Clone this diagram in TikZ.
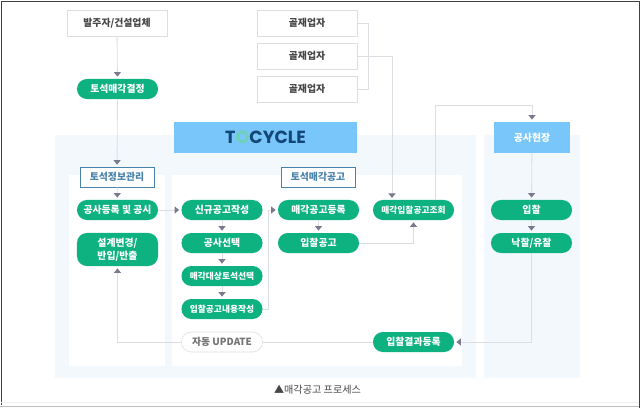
\documentclass[tikz,border=0pt]{standalone}
\usepackage{fontspec}
\setmainfont{Noto Sans CJK KR}
\newfontfamily\logofont{Poppins}
\usetikzlibrary{arrows.meta}
\definecolor{pillgreen}{RGB}{14,178,128}
\definecolor{skyblue}{RGB}{121,198,250}
\definecolor{palebg}{RGB}{243,248,253}
\definecolor{linegray}{RGB}{220,222,228}
\definecolor{tipgray}{RGB}{122,122,142}
\definecolor{titleblue}{RGB}{70,130,170}
\definecolor{textgray}{RGB}{70,70,70}
\definecolor{logonavy}{RGB}{20,70,120}
\tikzset{
  pill/.style={rectangle, rounded corners=2.45mm, fill=pillgreen, text=white, font=\fontsize{7}{9.6}\selectfont\bfseries,
    minimum width=2.025cm, minimum height=0.5cm, inner sep=0pt, align=center},
  whitebox/.style={rectangle, draw=linegray, fill=white, text=textgray, font=\fontsize{7}{9}\selectfont\bfseries,
    minimum width=2.5cm, minimum height=0.65cm, inner sep=0pt},
  titlebox/.style={rectangle, draw=titleblue, fill=white, text=titleblue, font=\fontsize{7}{9}\selectfont\bfseries,
    minimum width=1.85cm, minimum height=0.5cm, inner sep=0pt},
  skybox/.style={rectangle, fill=skyblue, minimum height=0.775cm, inner sep=0pt},
  link/.style={draw=linegray, line width=0.6pt},
  flow/.style={link, -{Triangle[color=tipgray, width=5pt, length=3.2pt]}, shorten >=1.5pt},
}
\begin{document}
\begin{tikzpicture}[x=0.025cm, y=-0.025cm]
  \useasboundingbox (0,0) rectangle (640,408);

  %% Frame
  \draw[black!75, line width=0.7pt] (1.5,405) -- (1.5,1.5) -- (639,1.5) -- (639,408);
  \draw[black!6, line width=0.5pt] (1.5,402) -- (639,402);
  \draw[black!25, line width=1pt] (0,406.5) -- (639,406.5);

  %% Panels
  \fill[palebg] (55,135) rectangle (476,378);
  \fill[palebg] (484,135) rectangle (580,378);
  \fill[white] (69,175) rectangle (165,366);
  \fill[white] (172,175) rectangle (462,366);

  %% Header boxes
  \node[skybox, minimum width=4.575cm] (tocycle) at (265.5,137.5)
    {\logofont\fontsize{12.5}{14}\selectfont\bfseries\color{logonavy}T{\color{pillgreen!60!white}O}CYCLE};
  \node[skybox, minimum width=1.9cm, text=white, font=\fontsize{7}{9}\selectfont\bfseries] (site) at (532,137.5) {공사현장};
  \node[titlebox] (infotitle) at (117,177) {토석정보관리};
  \node[titlebox] (saletitle) at (318,177) {토석매각공고};

  %% Outside boxes
  \node[whitebox] (client) at (117,23) {발주자/건설업체};
  \foreach \y/\n in {23/agg1, 56/agg2, 89/agg3}{
    \node[whitebox] (\n) at (307,\y) {골재업자};
  }

  %% Green steps
  \foreach \x/\y/\n/\t in {117.5/89/decide/토석매각결정,
                           117.5/210/register/공사등록 및 공시,
                           222/210/newpost/신규공고작성,
                           222/243/pick/공사선택,
                           318.5/210/salepost/매각공고등록,
                           318.5/243/bidpost/입찰공고,
                           413.5/342/result/입찰결과등록,
                           531.5/210/bid/입찰,
                           531.5/243/award/{낙찰/유찰}}{
    \node[pill] (\n) at (\x,\y) {\t};
  }
  \node[pill, font=\fontsize{6.2}{8}\selectfont\bfseries] (lookup) at (413.5,210) {매각입찰공고조회};
  \node[pill, font=\fontsize{6.2}{8}\selectfont\bfseries] (target) at (222,276) {매각대상토석선택};
  \node[pill, font=\fontsize{6.2}{8}\selectfont\bfseries] (write) at (222,309) {입찰공고내용작성};
  \node[pill, minimum height=0.825cm] (change) at (117.5,249.5) {설계변경/\\반입/반출};
  \node[pill, fill=white, draw=linegray, text=black!55] (auto) at (222,342) {자동 UPDATE};

  %% Caption
  \node[font=\fontsize{7.2}{9}\selectfont, text=textgray, inner sep=0pt] (caption) at (317.5,390) {▲매각공고 프로세스};

  %% Connectors
  \draw[flow] (client) -- (decide);
  \draw[flow] (decide) -- (infotitle);
  \draw[flow] (infotitle) -- (register);
  \draw[flow] (register) -- (newpost);
  \draw[flow] (newpost) -- (pick);
  \draw[flow] (pick) -- (target);
  \draw[flow] (target) -- (write);
  \draw[flow] (salepost) -- (bidpost);
  \draw[flow] (write.east) -- (268,309) -- (268,210) -- (salepost.west);
  \draw[flow] (bidpost.east) -- (lookup.south |- bidpost.east) -- (lookup.south);
  \draw[flow] (site) -- (bid);
  \draw[flow] (bid) -- (award);
  \draw[flow] (award.south) -- (award.south |- result.east) -- (result.east);
  \draw[flow] (435,200) -- (435,105) -- (site.north |- 0,105) -- (site.north);
  \draw[link] (result.west) -- (auto.east);
  \draw[flow] (auto.west) -- (change.south |- auto.west) -- (change.south);

  %% Suppliers
  \draw[link] (agg1.east) -- (368,23) -- (368,89) -- (agg3.east);
  \draw[flow] (agg2.east) -- (392,56) -- (392,200);
\end{tikzpicture}
\end{document}
